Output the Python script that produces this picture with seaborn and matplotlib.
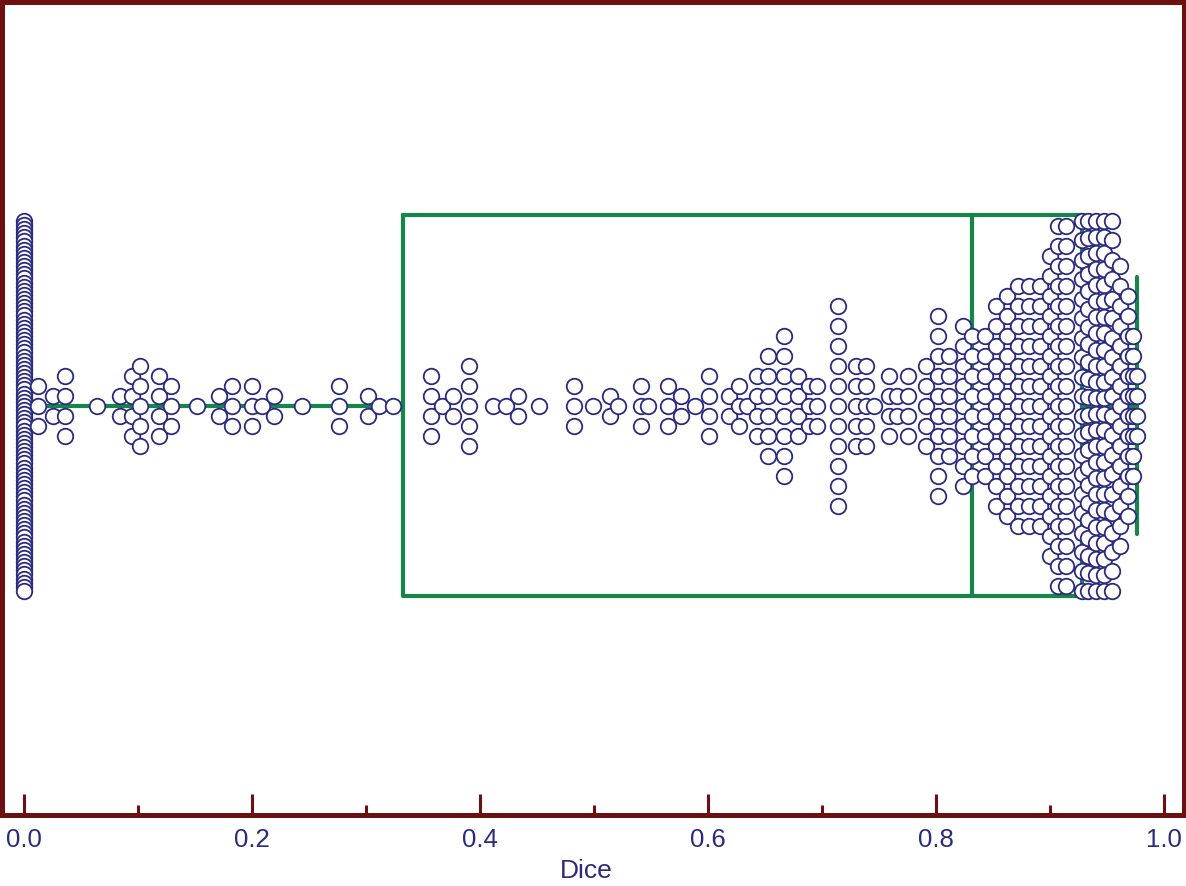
import numpy as np
import matplotlib
matplotlib.use("Agg")
import matplotlib.pyplot as plt
from matplotlib.ticker import MultipleLocator, FormatStrFormatter
import seaborn as sns

# colours
green = "#17844a"
navy = "#2a2a80"
frame = "#6c1010"

# Dice scores, one entry per stacked column of points in the swarm
zero_dice = [0.0]
zero_count = [91]

low_dice = [0.012, 0.025, 0.036, 0.064, 0.084, 0.095, 0.102, 0.118, 0.129, 0.152,
            0.171, 0.182, 0.200, 0.209, 0.219, 0.244, 0.276, 0.302, 0.311, 0.324]
low_count = [3, 2, 4, 1, 2, 4, 5, 4, 3, 1,
             2, 3, 3, 1, 2, 1, 3, 2, 1, 1]

mid_dice = [0.357, 0.367, 0.376, 0.390, 0.411, 0.423, 0.433, 0.452,
            0.482, 0.499, 0.514, 0.521, 0.541, 0.547, 0.565, 0.576, 0.589,
            0.601, 0.618, 0.627, 0.634, 0.643,
            0.653, 0.667, 0.679, 0.689, 0.696, 0.714, 0.730, 0.739, 0.746,
            0.759, 0.766, 0.775,
            0.791, 0.802, 0.811, 0.824, 0.832]
mid_count = [4, 1, 2, 5, 1, 1, 2, 1,
             3, 1, 2, 1, 3, 1, 3, 2, 1,
             4, 2, 3, 1, 4,
             6, 8, 4, 3, 3, 11, 5, 5, 1,
             4, 2, 4,
             5, 10, 6, 9, 8]

high_dice = [0.843, 0.853, 0.862, 0.872, 0.882, 0.891, 0.900, 0.907, 0.914,
             0.928, 0.933, 0.940, 0.947, 0.954, 0.961, 0.968, 0.973, 0.976]
high_count = [8, 11, 12, 13, 13, 13, 16, 19, 19,
              20, 22, 24, 24, 20, 15, 12, 8, 4]

xticks = [0.0, 0.2, 0.4, 0.6, 0.8, 1.0]


def stack_offsets(values, step, span):
    # equal values go in one vertical stack, squeezed if it would not fit
    offsets = np.zeros(len(values))
    for v in np.unique(values):
        idx = np.flatnonzero(values == v)
        n = len(idx)
        gap = step if (n - 1) * step <= span else span / (n - 1)
        offsets[idx] = (np.arange(n) - (n - 1) / 2) * gap
    return offsets


dice = np.concatenate([np.repeat(zero_dice, zero_count),
                       np.repeat(low_dice, low_count),
                       np.repeat(mid_dice, mid_count),
                       np.repeat(high_dice, high_count)])
offsets = stack_offsets(dice, step=0.042, span=0.777)

sns.set_style("white")
plt.rcParams['font.family'] = ['Liberation Sans', 'DejaVu Sans']

fig = plt.figure(figsize=(11.86, 8.86), dpi=100)
ax = fig.add_axes([0.0021, 0.0801, 0.9958, 0.9171])

# ------- BOX -------
sns.boxplot(x=dice, ax=ax, width=0.8, fill=False, color=green, linewidth=3,
            showfliers=False, capwidths=0.54)

# ------- POINTS -------
sns.scatterplot(x=dice, y=offsets, ax=ax, s=125, color="white", edgecolor=navy,
                linewidth=1.3, zorder=3, legend=False)

ax.set_xlim(-0.0189, 1.0171)
ax.set_ylim(0.859, -0.847)
ax.set_yticks([])
ax.set_ylabel("")

ax.set_xticks(xticks)
ax.xaxis.set_minor_locator(MultipleLocator(0.1))
ax.xaxis.set_major_formatter(FormatStrFormatter('%.1f'))
ax.tick_params(axis='x', which='major', bottom=True, top=False, direction='in',
               length=15, width=2.2, color=frame, labelcolor=navy, labelsize=18.5, pad=9)
ax.tick_params(axis='x', which='minor', bottom=True, top=False, direction='in',
               length=7, width=2.2, color=frame)

for sp in ax.spines.values():
    sp.set_visible(True)
    sp.set_color(frame)
    sp.set_linewidth(3.6)

ax.set_xlabel("Dice", fontsize=19, color=navy)
ax.xaxis.set_label_coords(0.4945, -0.054)

fig.savefig("out.png", dpi=100)
